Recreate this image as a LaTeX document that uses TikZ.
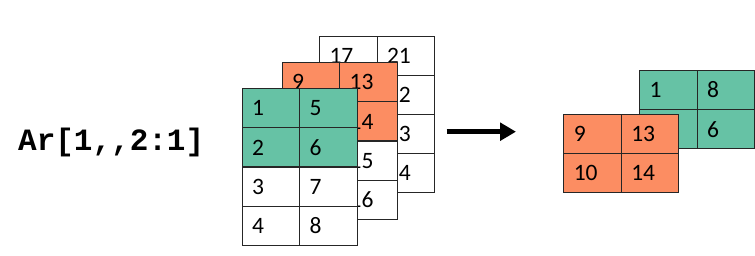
\documentclass[tikz,border=0pt]{standalone}
\usepackage{fontspec}
\setmainfont{Carlito}
\newfontfamily\codefont{Liberation Mono}
\usetikzlibrary{arrows.meta}
\definecolor{tealc}{HTML}{66C2A5}
\definecolor{orangec}{HTML}{FC8D62}
\begin{document}
\begin{tikzpicture}[x=1pt,y=1pt,
  cell/.style={draw=black!85, line width=1pt, rectangle, minimum width=57.5pt,
    minimum height=39pt, text width=37.5pt, inner xsep=10pt, inner ysep=0pt,
    align=left, font=\fontsize{23.5}{24}\selectfont, anchor=north west},
  wcell/.style={cell, fill=white},
  gcell/.style={cell, fill=tealc},
  ocell/.style={cell, fill=orangec},
  bigarrow/.style={line width=5pt, -{Triangle[length=16pt,width=17.5pt]}}
]
\useasboundingbox (0,0) rectangle (755,-256);
% title
\node[anchor=base west, inner sep=0pt, font=\codefont\bfseries\fontsize{31}{32}\selectfont] (title) at (18,-150.5) {Ar[1,,2:1]};
% back layer
\foreach \r/\c/\t in {0/0/17,1/0/{},2/0/{},3/0/{},0/1/21,1/1/22,2/1/23,3/1/24}
  \node[wcell] (b\r\c) at ({319+\c*57.5},{-36-\r*39}) {\t};
% middle layer
\foreach \r/\c/\t in {0/0/9,1/0/{},0/1/13,1/1/14}
  \node[ocell] (m\r\c) at ({281.7+\c*57.5},{-62.3-\r*39.2}) {\t};
\foreach \r/\c/\t in {2/0/{},3/0/{},2/1/15,3/1/16}
  \node[wcell] (m\r\c) at ({281.7+\c*57.5},{-62.3-\r*39.2}) {\t};
% front layer
\foreach \r/\c/\t in {0/0/1,1/0/2,0/1/5,1/1/6}
  \node[gcell] (f\r\c) at ({241.7+\c*57.5},{-88.3-\r*39.2}) {\t};
\foreach \r/\c/\t in {2/0/3,3/0/4,2/1/7,3/1/8}
  \node[wcell] (f\r\c) at ({241.7+\c*57.5},{-88.3-\r*39.2}) {\t};
% arrow
\coordinate (a1) at (446.7,-131.7);
\coordinate (a2) at (516,-131.7);
\draw[bigarrow] (a1) -- (a2);
% result: green
\foreach \r/\c/\t in {0/0/1,0/1/8,1/0/{},1/1/6}
  \node[gcell] (g\r\c) at ({639+\c*57.5},{-70-\r*39.2}) {\t};
% result: orange
\foreach \r/\c/\t in {0/0/9,0/1/13,1/0/10,1/1/14}
  \node[ocell] (o\r\c) at ({563.3+\c*57.5},{-114.3-\r*39}) {\t};
\end{tikzpicture}
\end{document}
